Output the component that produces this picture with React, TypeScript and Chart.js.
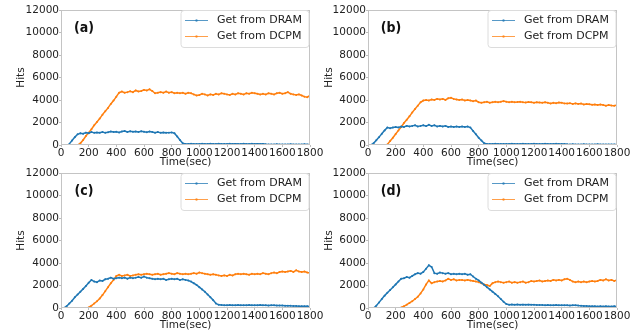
import React, { useEffect, useRef } from "react";
import { Chart, registerables } from "chart.js";

Chart.register(...registerables);

const TIMES = [
  0, 20, 40, 60, 80, 100, 120, 140, 160, 180,
  200, 220, 240, 260, 280, 300, 320, 340, 360, 380,
  400, 420, 440, 460, 480, 500, 520, 540, 560, 580,
  600, 620, 640, 660, 680, 700, 720, 740, 760, 780,
  800, 820, 840, 860, 880, 900, 920, 940, 960, 980,
  1000, 1020, 1040, 1060, 1080, 1100, 1120, 1140, 1160, 1180,
  1200, 1220, 1240, 1260, 1280, 1300, 1320, 1340, 1360, 1380,
  1400, 1420, 1440, 1460, 1480, 1500, 1520, 1540, 1560, 1580,
  1600, 1620, 1640, 1660, 1680, 1700, 1720, 1740, 1760, 1780,
  1800,
];

const X_TICKS = [0, 200, 400, 600, 800, 1000, 1200, 1400, 1600, 1800];
const Y_TICKS = [0, 2000, 4000, 6000, 8000, 10000, 12000];
const SERIES_NAMES = ["Get from DRAM", "Get from DCPM"];
const PANEL_LABELS = ["(a)", "(b)", "(c)", "(d)"];

const A_DRAM = [
  null, null, null, 100, 400, 700, 950, 1050, 1000, 1100,
  1050, 1150, 1080, 1120, 1100, 1150, 1080, 1130, 1200, 1150,
  1180, 1120, 1200, 1250, 1150, 1220, 1180, 1200, 1150, 1220,
  1180, 1130, 1200, 1150, 1100, 1150, 1080, 1120, 1080, 1100,
  1120, 1050, 750, 450, 150, 100, 90, 110, 100, 80,
  100, 110, 90, 100, 120, 100, 90, 110, 100, 90,
  100, 110, 90, 100, 80, 100, 110, 90, 100, 110,
  90, 100, 80, 100, 60, 50, 40, 50, 60, 50,
  50, 40, 50, 60, 40, 50, 40, 50, 60, 40,
  50,
];
const A_DCPM = [
  null, null, null, 0, 0, 0, 0, 150, 450, 800,
  1100, 1400, 1750, 2050, 2350, 2700, 3000, 3300, 3650, 3950,
  4300, 4650, 4750, 4650, 4700, 4780, 4700, 4850, 4750, 4800,
  4900, 4850, 4950, 4800, 4600, 4650, 4700, 4650, 4750, 4650,
  4700, 4600, 4650, 4600, 4650, 4550, 4650, 4600, 4500, 4400,
  4450, 4550, 4500, 4400, 4500, 4450, 4550, 4500, 4600, 4550,
  4500, 4450, 4550, 4500, 4600, 4550, 4500, 4600, 4550, 4650,
  4600, 4550, 4500, 4550, 4500, 4600, 4550, 4500, 4600, 4650,
  4550, 4600, 4700, 4550, 4500, 4450, 4500, 4400, 4300, 4250,
  4400,
];
const B_DRAM = [
  null, 0, 150, 430, 700, 1000, 1300, 1550, 1500, 1550,
  1600, 1550, 1650, 1600, 1700, 1650, 1700, 1750, 1650, 1700,
  1750, 1680, 1800, 1700, 1750, 1650, 1700, 1650, 1700, 1600,
  1650, 1600, 1650, 1600, 1650, 1600, 1650, 1550, 1250, 950,
  650, 400, 150, 100, 90, 100, 110, 100, 90, 100,
  100, 90, 110, 100, 90, 100, 110, 100, 90, 100,
  110, 100, 90, 100, 110, 100, 90, 100, 110, 100,
  90, 80, 60, 50, 60, 50, 40, 50, 60, 50,
  50, 40, 50, 60, 40, 50, 40, 50, 40, 50,
  40,
];
const B_DCPM = [
  null, 0, 0, 0, 0, 0, 0, 50, 350, 650,
  980, 1300, 1600, 1950, 2250, 2550, 2900, 3200, 3500, 3800,
  3950, 4000, 3950, 4050, 4000, 4100, 4050, 4100, 4000, 4150,
  4200, 4100, 4050, 4000, 4050, 3950, 4000, 3950, 3900, 3950,
  3800, 3750, 3800, 3850, 3750, 3800, 3850, 3800, 3850, 3900,
  3850, 3800, 3850, 3800, 3820, 3850, 3800, 3780, 3820, 3800,
  3750, 3800, 3780, 3750, 3800, 3750, 3700, 3750, 3720, 3780,
  3750, 3700, 3680, 3720, 3650, 3700, 3650, 3680, 3600, 3650,
  3620, 3580, 3600, 3550, 3600, 3550, 3500, 3550, 3520, 3500,
  3550,
];
const C_DRAM = [
  null, 0, 150, 400, 650, 950, 1200, 1450, 1700, 1950,
  2250, 2500, 2350, 2300, 2450, 2400, 2550, 2600, 2700, 2600,
  2650, 2700, 2650, 2700, 2600, 2700, 2650, 2700, 2750, 2700,
  2800, 2700, 2650, 2600, 2550, 2600, 2550, 2600, 2500, 2550,
  2600, 2550, 2600, 2500, 2550, 2500, 2450, 2350, 2200, 2050,
  1850, 1650, 1450, 1200, 950, 700, 400, 280, 260, 240,
  250, 260, 240, 250, 260, 250, 240, 250, 260, 240,
  250, 240, 260, 250, 240, 230, 250, 240, 220, 230,
  220, 200, 210, 190, 180, 170, 160, 150, 160, 150,
  140,
];
const C_DCPM = [
  null, 0, 0, 0, 0, 0, 0, 0, 0, 0,
  50, 200, 400, 600, 850, 1150, 1500, 1850, 2200, 2500,
  2850, 2950, 2850, 2900, 2950, 2850, 2900, 2950, 3000, 2950,
  3000, 3050, 3000, 2950, 3000, 3050, 2950, 3000, 3050, 3100,
  3050, 3000, 3100, 3050, 3000, 3050, 3000, 3050, 3100, 3050,
  3150, 3100, 3050, 3000, 2950, 3000, 2950, 2900, 2850, 2900,
  2850, 2950, 2900, 3000, 3050, 3000, 3050, 3000, 2950, 3050,
  3000, 3050, 3000, 3100, 3050, 3000, 3100, 3150, 3100, 3200,
  3250, 3200, 3250, 3300, 3200, 3350, 3250, 3200, 3250, 3150,
  3100,
];
const D_DRAM = [
  null, null, 0, 200, 500, 800, 1100, 1350, 1600, 1850,
  2100, 2350, 2600, 2650, 2750, 2700, 2850, 3000, 3100, 3050,
  3200, 3500, 3800, 3650, 3100, 3050, 3150, 3100, 3050, 3100,
  3000, 3050, 3000, 3050, 3000, 3050, 2950, 3000, 2800, 2600,
  2450, 2250, 2050, 1850, 1650, 1450, 1250, 1050, 800, 550,
  350, 300, 320, 300, 310, 290, 300, 280, 300, 290,
  280, 270, 260, 270, 250, 260, 250, 240, 260, 250,
  250, 240, 250, 230, 240, 250, 220, 200, 180, 170,
  160, 150, 160, 140, 150, 140, 150, 130, 140, 150,
  140,
];
const D_DCPM = [
  null, null, 0, 0, 0, 0, 0, 0, 0, 0,
  0, 0, 50, 150, 300, 450, 600, 800, 1000, 1300,
  1650, 2100, 2450, 2200, 2300, 2350, 2400, 2350, 2450, 2600,
  2500, 2550, 2450, 2500, 2500, 2450, 2500, 2450, 2400, 2350,
  2300, 2200, 2100, 2050, 1950, 2200, 2300, 2350, 2300, 2250,
  2300, 2350, 2250, 2300, 2250, 2300, 2350, 2250, 2300, 2400,
  2350, 2400, 2450, 2350, 2400, 2450, 2400, 2500, 2450, 2500,
  2450, 2550, 2600, 2500, 2350, 2300, 2350, 2300, 2350, 2300,
  2350, 2400, 2350, 2400, 2500, 2450, 2550, 2450, 2500, 2400,
  2500,
];

const BLUE = "#1f77b4";
const ORANGE = "#ff7f0e";
const FONT = "'DejaVu Sans', sans-serif";
const TEXT = "#222222";

type PanelCfg = {
  label: string;
  dram: (number | null)[];
  dcpm: (number | null)[];
  left: number; top: number; w: number; h: number;
  area: { l: number; t: number; r: number; b: number };
  titleY: number; hitsX: number;
};

const PANELS: PanelCfg[] = [
  { label: PANEL_LABELS[0], dram: A_DRAM, dcpm: A_DCPM, left: 0, top: 0, w: 330, h: 172,
    area: { l: 61, t: 10, r: 310, b: 145 }, titleY: 163, hitsX: 21 },
  { label: PANEL_LABELS[1], dram: B_DRAM, dcpm: B_DCPM, left: 318, top: 0, w: 319, h: 172,
    area: { l: 368, t: 10, r: 617, b: 145 }, titleY: 163, hitsX: 329 },
  { label: PANEL_LABELS[2], dram: C_DRAM, dcpm: C_DCPM, left: 0, top: 158, w: 330, h: 180,
    area: { l: 61, t: 173, r: 310, b: 308 }, titleY: 326, hitsX: 21 },
  { label: PANEL_LABELS[3], dram: D_DRAM, dcpm: D_DCPM, left: 318, top: 158, w: 319, h: 180,
    area: { l: 368, t: 173, r: 617, b: 308 }, titleY: 326, hitsX: 329 },
];

function Panel({ cfg }: { cfg: PanelCfg }) {
  const ref = useRef<HTMLCanvasElement | null>(null);
  useEffect(() => {
    const canvas = ref.current;
    if (!canvas) return;
    const aL = cfg.area.l - cfg.left;
    const aT = cfg.area.t - cfg.top;
    const aR = cfg.area.r - cfg.left;
    const aB = cfg.area.b - cfg.top;
    const scaleBottom = cfg.titleY - cfg.top + 6;
    const xHeight = scaleBottom - aB;
    const padBottom = cfg.h - scaleBottom;
    const hitsPad = cfg.hitsX - cfg.left - 6;

    const overlay = {
      id: "overlay",
      afterDraw(chart: any) {
        const { ctx, chartArea } = chart;
        ctx.save();
        // frame
        ctx.strokeStyle = "#c4c4c4";
        ctx.lineWidth = 1;
        ctx.strokeRect(chartArea.left + 0.5, chartArea.top + 0.5,
          chartArea.right - chartArea.left - 1, chartArea.bottom - chartArea.top - 1);
        // panel label
        ctx.fillStyle = "#111";
        ctx.font = `bold 14px 'DejaVu Sans Condensed', 'DejaVu Sans', sans-serif`;
        ctx.textAlign = "center";
        ctx.textBaseline = "middle";
        ctx.fillText(cfg.label, chartArea.left + 23, chartArea.top + 18);
        // legend
        const bw = 128, bh = 37;
        const bx = chartArea.right - 1 - bw;
        const by = chartArea.top + 0.5;
        ctx.beginPath();
        const r = 3;
        ctx.moveTo(bx + r, by);
        ctx.lineTo(bx + bw - r, by);
        ctx.arcTo(bx + bw, by, bx + bw, by + r, r);
        ctx.lineTo(bx + bw, by + bh - r);
        ctx.arcTo(bx + bw, by + bh, bx + bw - r, by + bh, r);
        ctx.lineTo(bx + r, by + bh);
        ctx.arcTo(bx, by + bh, bx, by + bh - r, r);
        ctx.lineTo(bx, by + r);
        ctx.arcTo(bx, by, bx + r, by, r);
        ctx.closePath();
        ctx.fillStyle = "rgba(255,255,255,0.85)";
        ctx.fill();
        ctx.strokeStyle = "#dcdcdc";
        ctx.lineWidth = 1;
        ctx.stroke();
        const colors = [BLUE, ORANGE];
        SERIES_NAMES.forEach((name, i) => {
          const cy = by + 10 + i * 16;
          ctx.strokeStyle = colors[i];
          ctx.globalAlpha = 0.75;
          ctx.lineWidth = 1;
          ctx.beginPath();
          ctx.moveTo(bx + 4, cy);
          ctx.lineTo(bx + 27, cy);
          ctx.stroke();
          ctx.fillStyle = colors[i];
          ctx.beginPath();
          ctx.arc(bx + 15.5, cy, 1.2, 0, Math.PI * 2);
          ctx.fill();
          ctx.globalAlpha = 1;
          ctx.fillStyle = TEXT;
          ctx.font = `11px ${FONT}`;
          ctx.textAlign = "left";
          ctx.textBaseline = "middle";
          ctx.fillText(name, bx + 36, cy);
        });
        ctx.restore();
      },
    };

    const mk = (vals: (number | null)[]) => TIMES.map((t, i) => ({ x: t, y: vals[i] }));
    const plain = (v: any) => String(v);

    const chart = new Chart(canvas, {
      type: "line",
      data: {
        datasets: [
          { label: SERIES_NAMES[0], data: mk(cfg.dram) as any, borderColor: BLUE, backgroundColor: BLUE,
            borderWidth: 1.5, pointRadius: 1, pointHoverRadius: 0, pointBorderWidth: 0, tension: 0 },
          { label: SERIES_NAMES[1], data: mk(cfg.dcpm) as any, borderColor: ORANGE, backgroundColor: ORANGE,
            borderWidth: 1.5, pointRadius: 1, pointHoverRadius: 0, pointBorderWidth: 0, tension: 0 },
        ],
      },
      options: {
        animation: false,
        responsive: false,
        maintainAspectRatio: false,
        events: [],
        layout: { padding: { left: 0, top: aT, right: cfg.w - aR, bottom: padBottom } },
        plugins: { legend: { display: false }, tooltip: { enabled: false } },
        scales: {
          x: {
            type: "linear",
            min: 0,
            max: 1800,
            afterBuildTicks: (s: any) => { s.ticks = X_TICKS.map((v) => ({ value: v })); },
            afterFit: (s: any) => { s.height = xHeight; s.paddingLeft = 0; s.paddingRight = 0; },
            grid: { display: true, drawOnChartArea: false, drawTicks: true, tickLength: 2, color: "#bdbdbd" },
            border: { display: false },
            ticks: { color: TEXT, font: { family: FONT, size: 10.5 }, padding: 0, maxRotation: 0, autoSkip: false, callback: plain },
            title: { display: true, text: "Time(sec)", color: TEXT, font: { family: FONT, size: 10.5 }, padding: 0 },
          },
          y: {
            type: "linear",
            min: 0,
            max: 12000,
            afterBuildTicks: (s: any) => { s.ticks = Y_TICKS.map((v) => ({ value: v })); },
            afterFit: (s: any) => { s.width = aL; s.paddingTop = 0; s.paddingBottom = 0; },
            grid: { display: true, drawOnChartArea: false, drawTicks: true, tickLength: 2, color: "#bdbdbd" },
            border: { display: false },
            ticks: { color: TEXT, font: { family: FONT, size: 10.5 }, padding: 0, autoSkip: false, callback: plain },
            title: { display: true, text: "Hits", color: TEXT, font: { family: FONT, size: 10.5 }, padding: { top: hitsPad, bottom: 0 } },
          },
        },
      },
      plugins: [overlay],
    });
    return () => chart.destroy();
  }, [cfg]);
  return (
    <canvas
      ref={ref}
      width={cfg.w}
      height={cfg.h}
      style={{ position: "absolute", left: cfg.left, top: cfg.top, width: cfg.w, height: cfg.h }}
    />
  );
}

export default function App() {
  return (
    <div style={{ position: "fixed", left: 0, top: 0, width: 637, height: 331, background: "#fff", overflow: "hidden" }}>
      {PANELS.map((p, i) => (
        <Panel key={i} cfg={p} />
      ))}
    </div>
  );
}
